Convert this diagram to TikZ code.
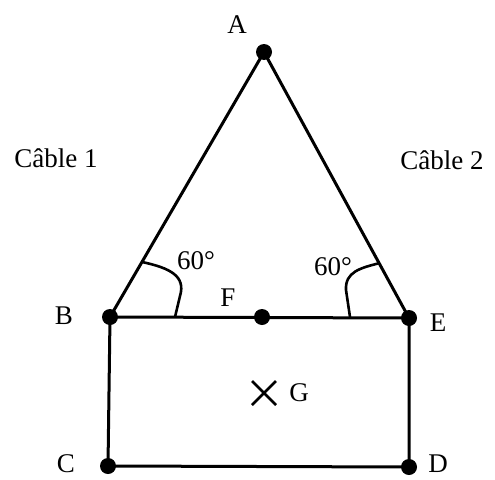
\documentclass[tikz,border=0pt]{standalone}
\usepackage{fontspec}
\setmainfont{Liberation Serif}
\usetikzlibrary{calc}
\begin{document}
\begin{tikzpicture}[x=1pt,y=-1pt,
  bar/.style={line width=3pt},
  dot/.style={circle,fill=black,inner sep=0pt,minimum size=16pt},
  lab/.style={font=\fontsize{27}{30}\selectfont,inner sep=0pt},
  ang/.style={line width=2.6pt}]
\useasboundingbox (0,0) rectangle (495,479);
\node[dot] (A) at (264,52) {};
\node[dot] (B) at (110,317) {};
\node[dot] (F) at (262,317) {};
\node[dot] (E) at (409,318) {};
\node[dot] (C) at (108,466) {};
\node[dot] (D) at (409,467) {};
\coordinate (G) at (264,393);
\draw[bar] (A.center) -- (B.center) -- (E.center) -- cycle;
\draw[bar] (B.center) -- (C.center) -- (D.center) -- (E.center);
\draw[line width=2.8pt] ($(G)+(-12,-12)$) -- ($(G)+(12,12)$) ($(G)+(-12,12)$) -- ($(G)+(12,-12)$);
\draw[ang] (142,262) .. controls (170,268) and (186,276) .. (180,296) -- (175,317);
\draw[ang] (380,263) .. controls (360,268) and (345,272) .. (346,290) -- (350,317);
\node[lab] (lA) at (237,25) {A};
\node[lab] (lB) at (64,316) {B};
\node[lab] (lF) at (228,298) {F};
\node[lab] (lE) at (438,323) {E};
\node[lab] (lC) at (66,464) {C};
\node[lab] (lD) at (438,464) {D};
\node[lab] (lG) at (299,393) {G};
\node[lab] (c1) at (56,158) {Câble 1};
\node[lab] (c2) at (442,160) {Câble 2};
\node[lab] (a1) at (196,261) {60°};
\node[lab] (a2) at (333,267) {60°};
\end{tikzpicture}
\end{document}
